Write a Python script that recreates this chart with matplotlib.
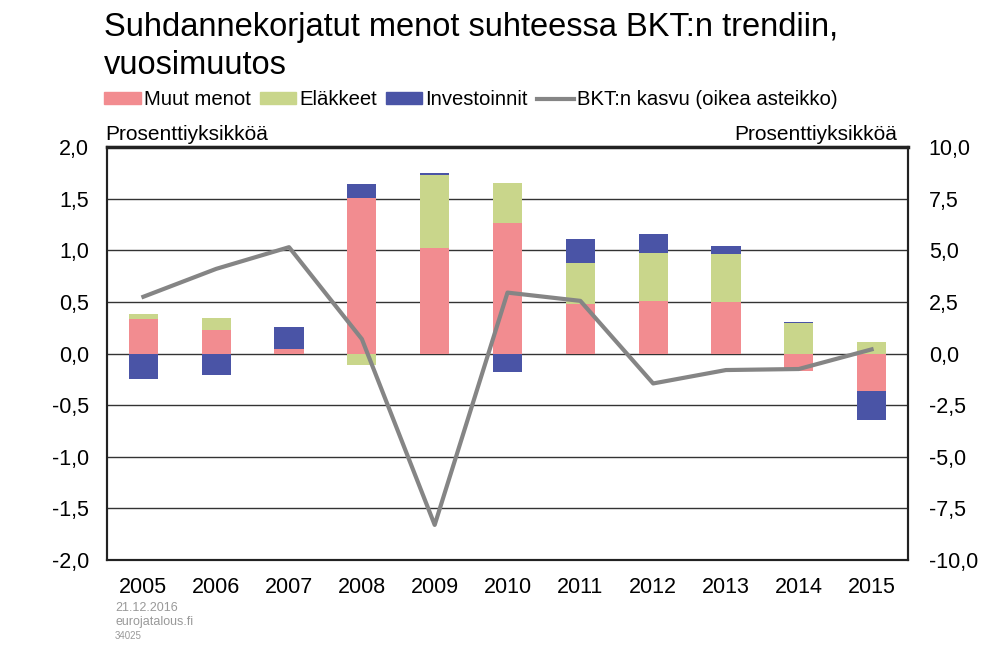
import numpy as np
import matplotlib
matplotlib.use('Agg')
import matplotlib.pyplot as plt
from matplotlib.patches import Patch
from matplotlib.lines import Line2D

plt.rcParams['font.family'] = ['Liberation Sans', 'DejaVu Sans']

years = ['2005', '2006', '2007', '2008', '2009', '2010',
         '2011', '2012', '2013', '2014', '2015']

# contributions, percentage points (left axis)
muut_menot  = [0.33, 0.23, 0.04, 1.51, 1.02, 1.26, 0.48, 0.51, 0.50, -0.17, -0.36]
elakkeet    = [0.05, 0.11, 0.00, -0.11, 0.71, 0.39, 0.40, 0.46, 0.46, 0.30, 0.11]
investoinnit = [-0.25, -0.21, 0.22, 0.13, 0.02, -0.18, 0.23, 0.19, 0.08, 0.01, -0.28]

# GDP growth, % (right axis)
bkt_kasvu = [2.75, 4.1, 5.15, 0.7, -8.3, 2.95, 2.55, -1.45, -0.8, -0.75, 0.2]

left_ticks = [2.0, 1.5, 1.0, 0.5, 0.0, -0.5, -1.0, -1.5, -2.0]
right_ticks = [10.0, 7.5, 5.0, 2.5, 0.0, -2.5, -5.0, -7.5, -10.0]

COLOURS = {
    'muut': '#F28C90',
    'elak': '#C9D68B',
    'inv':  '#4A54A6',
    'bkt':  '#858585',
}


def fmt(v):
    return f"{v:.1f}".replace('.', ',')


def stack(series_list):
    """Bottoms for stacked bars, positives and negatives stacked separately."""
    pos = np.zeros(len(series_list[0]))
    neg = np.zeros(len(series_list[0]))
    bottoms = []
    for s in series_list:
        s = np.asarray(s)
        b = np.where(s >= 0, pos, neg)
        bottoms.append(b)
        pos = pos + np.where(s >= 0, s, 0)
        neg = neg + np.where(s < 0, s, 0)
    return bottoms


fig = plt.figure(figsize=(10, 6.54), dpi=100)
ax = fig.add_axes([0.107, 0.1437, 0.801, 0.6315])
ax2 = ax.twinx()

x = np.arange(len(years))
series = [muut_menot, elakkeet, investoinnit]
cols = [COLOURS['muut'], COLOURS['elak'], COLOURS['inv']]
bottoms = stack(series)
for s, b, c in zip(series, bottoms, cols):
    ax.bar(x, s, bottom=b, width=0.4, color=c, zorder=3)

ax2.plot(x, bkt_kasvu, color=COLOURS['bkt'], linewidth=3.0, zorder=4)

# axes
ax.set_xlim(-0.5, len(years) - 0.5)
ax.set_ylim(-2.0, 2.0)
ax.set_yticks(left_ticks)
ax.set_yticklabels([fmt(v) for v in left_ticks])
ax2.set_ylim(-10.0, 10.0)
ax2.set_yticks(right_ticks)
ax2.set_yticklabels([fmt(v) for v in right_ticks])
ax.set_xticks(x)
ax.set_xticklabels(years)

ax.grid(axis='y', color='#333333', linewidth=1.0, zorder=0)
ax.set_axisbelow(True)
ax.tick_params(axis='both', length=0, labelsize=15.5, colors='black')
ax.tick_params(axis='y', pad=13)
ax.tick_params(axis='x', pad=12)
ax2.tick_params(axis='y', length=0, labelsize=15.5, pad=15)

for a in (ax, ax2):
    for sp in a.spines.values():
        sp.set_linewidth(1.5)
        sp.set_color('#222222')
ax.spines['top'].set_linewidth(2.5)

ax.set_zorder(ax2.get_zorder() - 1)
ax.patch.set_visible(True)
ax2.patch.set_visible(False)

# unit labels
fig.text(0.105, 0.775 + 0.005, 'Prosenttiyksikköä', fontsize=15, ha='left', va='bottom')
fig.text(0.897, 0.775 + 0.005, 'Prosenttiyksikköä', fontsize=15, ha='right', va='bottom')

# title
fig.text(0.104, 0.981, 'Suhdannekorjatut menot suhteessa BKT:n trendiin,\nvuosimuutos',
         fontsize=23.5, ha='left', va='top', linespacing=1.27)

# legend
handles = [
    Patch(color=COLOURS['muut'], label='Muut menot'),
    Patch(color=COLOURS['elak'], label='Eläkkeet'),
    Patch(color=COLOURS['inv'], label='Investoinnit'),
    Line2D([0], [0], color=COLOURS['bkt'], linewidth=3.0, label='BKT:n kasvu (oikea asteikko)'),
]
fig.legend(handles=handles, loc='upper left', bbox_to_anchor=(0.104, 0.862), ncol=4,
           frameon=False, fontsize=14.6, handlelength=1.8, handleheight=0.5,
           handletextpad=0.15, columnspacing=0.45, borderaxespad=0, borderpad=0)

# footer
fig.text(0.115, 0.070, '21.12.2016', fontsize=9, color='#999999', ha='left', va='center')
fig.text(0.115, 0.049, 'eurojatalous.fi', fontsize=9, color='#999999', ha='left', va='center')
fig.text(0.115, 0.028, '34025', fontsize=7, color='#999999', ha='left', va='center')

fig.savefig('out.png', dpi=100)
